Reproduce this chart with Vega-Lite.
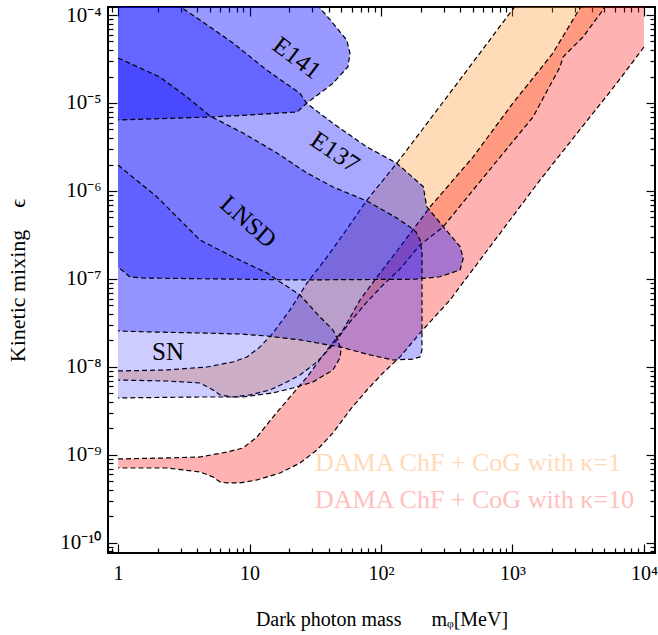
{
  "$schema": "https://vega.github.io/schema/vega-lite/v6.json",
  "width": 547,
  "height": 546,
  "autosize": {"type": "none"},
  "padding": {"left": 108, "top": 7, "right": 3, "bottom": 82},
  "background": "white",
  "config": {"view": {"stroke": "black", "strokeWidth": 2}},
  "datasets": {
    "orange": [
      {"i":1,"m":1,"eps":9.01e-9},{"i":2,"m":2.359,"eps":9.25e-9},{"i":3,"m":4.751,"eps":1.0e-8},{"i":4,"m":7.49,"eps":1.14e-8},
      {"i":5,"m":9.57,"eps":1.30e-8},{"i":6,"m":12.02,"eps":1.69e-8},{"i":7,"m":15.09,"eps":2.43e-8},{"i":8,"m":20.32,"eps":4.45e-8},
      {"i":9,"m":27.37,"eps":9.01e-8},{"i":10,"m":38.86,"eps":1.78e-7},{"i":11,"m":55.13,"eps":3.70e-7},{"i":12,"m":78.26,"eps":7.90e-7},
      {"i":13,"m":132.3,"eps":2.08e-6},{"i":14,"m":334.7,"eps":1.30e-5},{"i":15,"m":957.2,"eps":1.054e-4},{"i":16,"m":1140,"eps":1.48e-4},
      {"i":17,"m":5232,"eps":1.48e-4},{"i":18,"m":4877,"eps":1.14e-4},{"i":19,"m":3437,"eps":5.62e-5},{"i":20,"m":2737,"eps":4.0e-5},
      {"i":21,"m":2421,"eps":3.33e-5},{"i":22,"m":2297,"eps":2.56e-5},{"i":23,"m":1432,"eps":6.93e-6},{"i":24,"m":639.9,"eps":1.60e-6},
      {"i":25,"m":296.1,"eps":3.90e-7},{"i":26,"m":198,"eps":2.43e-7},{"i":27,"m":139.5,"eps":1.30e-7},{"i":28,"m":103.6,"eps":8.55e-8},
      {"i":29,"m":78.26,"eps":5.48e-8},{"i":30,"m":58.12,"eps":3.25e-8},{"i":31,"m":43.15,"eps":1.78e-8},{"i":32,"m":32.61,"eps":1.14e-8},
      {"i":33,"m":24.21,"eps":8.11e-9},{"i":34,"m":18.62,"eps":6.58e-9},{"i":35,"m":14.32,"eps":5.48e-9},{"i":36,"m":10.09,"eps":4.81e-9},
      {"i":37,"m":7.49,"eps":4.56e-9},{"i":38,"m":5.968,"eps":4.81e-9},{"i":39,"m":5.277,"eps":5.48e-9},{"i":40,"m":4.204,"eps":6.58e-9},
      {"i":41,"m":2.359,"eps":6.93e-9},{"i":42,"m":1,"eps":7.11e-9}
    ],
    "red": [
      {"i":1,"s":1,"m":1,"eps":9.01e-10},{"i":2,"s":1,"m":2.359,"eps":9.25e-10},{"i":3,"s":1,"m":4.204,"eps":9.49e-10},{"i":4,"s":1,"m":6.745,"eps":1.08e-9},
      {"i":5,"s":1,"m":8.925,"eps":1.20e-9},{"i":6,"s":1,"m":11.40,"eps":1.60e-9},{"i":7,"s":1,"m":15.09,"eps":2.70e-9},{"i":8,"s":1,"m":20.32,"eps":4.56e-9},
      {"i":9,"s":1,"m":27.37,"eps":7.69e-9},{"i":10,"s":1,"m":38.86,"eps":1.56e-8},{"i":11,"s":1,"m":51.40,"eps":2.63e-8},{"i":12,"s":1,"m":69.24,"eps":5.77e-8},
      {"i":13,"s":1,"m":93.24,"eps":1.054e-7},{"i":14,"s":1,"m":132.3,"eps":2.08e-7},{"i":15,"s":1,"m":235.9,"eps":6.58e-7},{"i":16,"s":1,"m":500.8,"eps":2.43e-6},
      {"i":17,"s":1,"m":1009,"eps":1.0e-5},{"i":18,"s":1,"m":2032,"eps":3.70e-5},{"i":19,"s":1,"m":3094,"eps":1.054e-4},{"i":20,"s":1,"m":3557,"eps":1.48e-4},
      {"i":21,"s":0,"m":10000,"eps":1.48e-4},
      {"i":22,"s":2,"m":10000,"eps":4.33e-5},{"i":23,"s":2,"m":6233,"eps":1.69e-5},{"i":24,"s":2,"m":1619,"eps":1.33e-6},{"i":25,"s":2,"m":334.7,"eps":5.77e-8},
      {"i":26,"s":2,"m":198,"eps":2.43e-8},{"i":27,"s":2,"m":139.5,"eps":1.30e-8},{"i":28,"s":2,"m":103.6,"eps":8.55e-9},{"i":29,"s":2,"m":78.26,"eps":5.48e-9},
      {"i":30,"s":2,"m":58.12,"eps":3.25e-9},{"i":31,"s":2,"m":43.15,"eps":1.78e-9},{"i":32,"s":2,"m":32.61,"eps":1.14e-9},{"i":33,"s":2,"m":24.21,"eps":8.11e-10},
      {"i":34,"s":2,"m":17.06,"eps":6.24e-10},{"i":35,"s":2,"m":11.40,"eps":5.20e-10},{"i":36,"s":2,"m":8.47,"eps":4.81e-10},{"i":37,"s":2,"m":6.745,"eps":4.81e-10},
      {"i":38,"s":2,"m":5.968,"eps":4.93e-10},{"i":39,"s":2,"m":5.277,"eps":5.62e-10},{"i":40,"s":2,"m":4.204,"eps":6.41e-10},{"i":41,"s":2,"m":2.359,"eps":7.11e-10},
      {"i":42,"s":2,"m":1,"eps":7.11e-10}
    ],
    "E141": [
      {"i":0,"m":1,"eps":2.5e-4},{"i":1,"m":28,"eps":2.5e-4},{"i":2,"m":34.37,"eps":1.2e-4},{"i":3,"m":43.15,"eps":8.05e-5},
      {"i":4,"m":54.8,"eps":5.2e-5},{"i":5,"m":58.12,"eps":3.67e-5},{"i":6,"m":56.1,"eps":2.585e-5},{"i":7,"m":43.15,"eps":1.675e-5},
      {"i":8,"m":27.2,"eps":9.93e-6},{"i":9,"m":22.97,"eps":7.9e-6},{"i":10,"m":10.09,"eps":7.31e-6},{"i":11,"m":5.0,"eps":6.93e-6},
      {"i":12,"m":1,"eps":6.41e-6}
    ],
    "E137": [
      {"i":0,"m":1,"eps":2.5e-4},{"i":1,"m":2.24,"eps":1.69e-4},{"i":2,"m":3.067,"eps":1.2e-4},{"i":3,"m":4.204,"eps":8.77e-5},
      {"i":4,"m":7.49,"eps":4.81e-5},{"i":5,"m":13.5,"eps":2.37e-5},{"i":6,"m":24.2,"eps":1.29e-5},{"i":7,"m":27.2,"eps":9.93e-6},
      {"i":8,"m":43.15,"eps":5.87e-6},{"i":9,"m":77.8,"eps":3.18e-6},{"i":10,"m":131.6,"eps":2.07e-6},{"i":11,"m":209.8,"eps":1.12e-6},
      {"i":12,"m":222.6,"eps":6.64e-7},{"i":13,"m":297.8,"eps":3.93e-7},{"i":14,"m":399,"eps":2.33e-7},{"i":15,"m":422.6,"eps":1.72e-7},
      {"i":16,"m":399,"eps":1.265e-7},{"i":17,"m":281,"eps":1.06e-7},{"i":18,"m":176.1,"eps":9.93e-8},{"i":19,"m":24.2,"eps":9.75e-8},
      {"i":20,"m":1.549,"eps":1.026e-7},{"i":21,"m":1.234,"eps":1.054e-7},{"i":22,"m":1,"eps":1.37e-7}
    ],
    "LNSD": [
      {"i":0,"m":1,"eps":3.25e-5},{"i":1,"m":2.085,"eps":1.97e-5},{"i":2,"m":3.348,"eps":1.17e-5},{"i":3,"m":5.008,"eps":7.11e-6},
      {"i":4,"m":8.925,"eps":4.56e-6},{"i":5,"m":16.19,"eps":2.70e-6},{"i":6,"m":27.37,"eps":1.60e-6},{"i":7,"m":43.15,"eps":1.11e-6},
      {"i":8,"m":78.26,"eps":7.69e-7},{"i":9,"m":127.8,"eps":5.07e-7},{"i":10,"m":166.2,"eps":3.90e-7},{"i":11,"m":184.6,"eps":3.42e-7},
      {"i":12,"m":198,"eps":2.77e-7},{"i":13,"m":205,"eps":2.03e-7},{"i":14,"m":205,"eps":5.77e-8},{"i":15,"m":205,"eps":1.56e-8},
      {"i":16,"m":198,"eps":1.30e-8},{"i":17,"m":175.1,"eps":1.23e-8},{"i":18,"m":123.4,"eps":1.20e-8},{"i":19,"m":82.48,"eps":1.37e-8},
      {"i":20,"m":48.77,"eps":1.69e-8},{"i":21,"m":24.21,"eps":2.03e-8},{"i":22,"m":13.59,"eps":2.25e-8},{"i":23,"m":8.47,"eps":2.37e-8},
      {"i":24,"m":4.43,"eps":2.43e-8},{"i":25,"m":1.751,"eps":2.50e-8},{"i":26,"m":1,"eps":2.57e-8}
    ],
    "SN": [
      {"i":0,"m":1,"eps":1.97e-6},{"i":1,"m":1.98,"eps":8.55e-7},{"i":2,"m":4.204,"eps":2.77e-7},{"i":3,"m":7.49,"eps":1.78e-7},
      {"i":4,"m":13.59,"eps":1.17e-7},{"i":5,"m":16.19,"eps":9.75e-8},{"i":6,"m":24.21,"eps":6.58e-8},{"i":7,"m":34.37,"eps":3.70e-8},
      {"i":8,"m":43.15,"eps":2.63e-8},{"i":9,"m":47.1,"eps":2.03e-8},{"i":10,"m":49.6,"eps":1.56e-8},{"i":11,"m":48.77,"eps":1.27e-8},
      {"i":12,"m":43.15,"eps":9.25e-9},{"i":13,"m":30.41,"eps":6.76e-9},{"i":14,"m":21.42,"eps":5.77e-9},{"i":15,"m":15.09,"eps":5.07e-9},
      {"i":16,"m":8.925,"eps":4.56e-9},{"i":17,"m":4.204,"eps":4.56e-9},{"i":18,"m":1,"eps":4.45e-9}
    ],
    "labels": [
      {"label":"E141","m":22.97,"eps":3.24e-5},
      {"label":"E137","m":44.7,"eps":2.77e-6},
      {"label":"LNSD","m":9.79,"eps":4.48e-7},
      {"label":"SN","m":2.40,"eps":1.48e-8},
      {"label":"DAMA ChF + CoG with κ=1","m":31.5,"eps":8.11e-10},
      {"label":"DAMA ChF + CoG with κ=10","m":31.5,"eps":3.08e-10}
    ]
  },
  "resolve": {"axis": {"x": "independent", "y": "independent"}},
  "layer": [
    {
      "data": {"name": "orange"},
      "mark": {"type": "line", "interpolate": "linear-closed", "fill": "#ff8c1a", "fillOpacity": 0.31, "strokeOpacity": 0, "clip": true},
      "encoding": {
        "x": {"field": "m", "type": "quantitative", "scale": {"type": "log", "domain": [0.839, 12130], "nice": false},
          "axis": {"orient": "bottom", "title": "Dark photon mass\u00a0\u00a0\u00a0\u00a0\u00a0\u00a0mᵩ[MeV]", "grid": false, "domain": false,
            "tickColor": "black", "tickWidth": 1.2,
            "tickSize": {"condition": {"test": "abs(log(datum.value)/LN10 - round(log(datum.value)/LN10)) < 0.001", "value": -9}, "value": -5},
            "labelExpr": "abs(log(datum.value)/LN10 - round(log(datum.value)/LN10)) > 0.001 ? '' : ['1','10','10²','10³','10⁴'][round(log(datum.value)/LN10)]",
            "labelFont": "Liberation Serif", "labelFontSize": 20, "labelColor": "black", "labelPadding": 19, "labelOverlap": false, "labelFlush": false,
            "titleFont": "Liberation Serif", "titleFontSize": 20, "titleFontWeight": "normal", "titleColor": "black", "titlePadding": 22}},
        "y": {"field": "eps", "type": "quantitative", "scale": {"type": "log", "domain": [7.69e-11, 1.233e-4], "nice": false},
          "axis": {"orient": "left", "title": "Kinetic mixing\u00a0\u00a0\u00a0\u00a0ϵ", "grid": false, "domain": false,
            "tickColor": "black", "tickWidth": 1.2,
            "tickSize": {"condition": {"test": "abs(log(datum.value)/LN10 - round(log(datum.value)/LN10)) < 0.001", "value": -9}, "value": -5},
            "labelExpr": "abs(log(datum.value)/LN10 - round(log(datum.value)/LN10)) > 0.001 ? '' : '10⁻' + ['0','1','2','3','⁴','⁵','⁶','⁷','⁸','⁹','¹⁰'][-round(log(datum.value)/LN10)]",
            "labelFont": "Liberation Serif", "labelFontSize": 21, "labelColor": "black", "labelPadding": 16, "labelOverlap": false, "labelFlush": false,
            "titleFont": "Liberation Serif", "titleFontSize": 22, "titleFontWeight": "normal", "titleColor": "black", "titlePadding": 30}},
        "order": {"field": "i", "type": "quantitative"}
      }
    },
    {
      "data": {"name": "red"},
      "mark": {"type": "line", "interpolate": "linear-closed", "fill": "#ff0000", "fillOpacity": 0.3, "strokeOpacity": 0, "clip": true},
      "encoding": {
        "x": {"field": "m", "type": "quantitative",
          "axis": {"orient": "top", "labels": false, "title": null, "grid": false, "domain": false, "tickColor": "black", "tickWidth": 1.2,
            "tickSize": {"condition": {"test": "abs(log(datum.value)/LN10 - round(log(datum.value)/LN10)) < 0.001", "value": -9}, "value": -5}}},
        "y": {"field": "eps", "type": "quantitative",
          "axis": {"orient": "right", "labels": false, "title": null, "grid": false, "domain": false, "tickColor": "black", "tickWidth": 1.2,
            "tickSize": {"condition": {"test": "abs(log(datum.value)/LN10 - round(log(datum.value)/LN10)) < 0.001", "value": -9}, "value": -5}}},
        "order": {"field": "i", "type": "quantitative"}
      }
    },
    {
      "data": {"name": "orange"},
      "mark": {"type": "line", "stroke": "black", "strokeWidth": 1.2, "strokeDash": [5, 3], "clip": true},
      "encoding": {
        "x": {"field": "m", "type": "quantitative", "axis": null},
        "y": {"field": "eps", "type": "quantitative", "axis": null},
        "order": {"field": "i", "type": "quantitative"}
      }
    },
    {
      "data": {"name": "red"},
      "transform": [{"filter": "datum.s > 0"}],
      "mark": {"type": "line", "stroke": "black", "strokeWidth": 1.2, "strokeDash": [5, 3], "clip": true},
      "encoding": {
        "x": {"field": "m", "type": "quantitative", "axis": null},
        "y": {"field": "eps", "type": "quantitative", "axis": null},
        "detail": {"field": "s", "type": "nominal"},
        "order": {"field": "i", "type": "quantitative"}
      }
    },
    {
      "data": {"name": "E141"},
      "mark": {"type": "line", "interpolate": "linear-closed", "fill": "#0000ff", "fillOpacity": 0.4, "strokeOpacity": 0, "clip": true},
      "encoding": {"x": {"field": "m", "type": "quantitative", "axis": null}, "y": {"field": "eps", "type": "quantitative", "axis": null}, "order": {"field": "i", "type": "quantitative"}}
    },
    {
      "data": {"name": "E137"},
      "mark": {"type": "line", "interpolate": "linear-closed", "fill": "#0000ff", "fillOpacity": 0.34, "strokeOpacity": 0, "clip": true},
      "encoding": {"x": {"field": "m", "type": "quantitative", "axis": null}, "y": {"field": "eps", "type": "quantitative", "axis": null}, "order": {"field": "i", "type": "quantitative"}}
    },
    {
      "data": {"name": "LNSD"},
      "mark": {"type": "line", "interpolate": "linear-closed", "fill": "#0000ff", "fillOpacity": 0.27, "strokeOpacity": 0, "clip": true},
      "encoding": {"x": {"field": "m", "type": "quantitative", "axis": null}, "y": {"field": "eps", "type": "quantitative", "axis": null}, "order": {"field": "i", "type": "quantitative"}}
    },
    {
      "data": {"name": "SN"},
      "mark": {"type": "line", "interpolate": "linear-closed", "fill": "#0000ff", "fillOpacity": 0.2, "strokeOpacity": 0, "clip": true},
      "encoding": {"x": {"field": "m", "type": "quantitative", "axis": null}, "y": {"field": "eps", "type": "quantitative", "axis": null}, "order": {"field": "i", "type": "quantitative"}}
    },
    {
      "data": {"name": "E141"},
      "mark": {"type": "line", "stroke": "black", "strokeWidth": 1.2, "strokeDash": [5, 3], "clip": true},
      "encoding": {"x": {"field": "m", "type": "quantitative", "axis": null}, "y": {"field": "eps", "type": "quantitative", "axis": null}, "order": {"field": "i", "type": "quantitative"}}
    },
    {
      "data": {"name": "E137"},
      "mark": {"type": "line", "stroke": "black", "strokeWidth": 1.2, "strokeDash": [5, 3], "clip": true},
      "encoding": {"x": {"field": "m", "type": "quantitative", "axis": null}, "y": {"field": "eps", "type": "quantitative", "axis": null}, "order": {"field": "i", "type": "quantitative"}}
    },
    {
      "data": {"name": "LNSD"},
      "mark": {"type": "line", "stroke": "black", "strokeWidth": 1.2, "strokeDash": [5, 3], "clip": true},
      "encoding": {"x": {"field": "m", "type": "quantitative", "axis": null}, "y": {"field": "eps", "type": "quantitative", "axis": null}, "order": {"field": "i", "type": "quantitative"}}
    },
    {
      "data": {"name": "SN"},
      "mark": {"type": "line", "stroke": "black", "strokeWidth": 1.2, "strokeDash": [5, 3], "clip": true},
      "encoding": {"x": {"field": "m", "type": "quantitative", "axis": null}, "y": {"field": "eps", "type": "quantitative", "axis": null}, "order": {"field": "i", "type": "quantitative"}}
    },
    {
      "data": {"name": "labels"},
      "transform": [{"filter": "datum.label == 'E141'"}],
      "mark": {"type": "text", "font": "Liberation Serif", "fontSize": 25, "color": "black", "angle": 37, "align": "center", "baseline": "middle"},
      "encoding": {"x": {"field": "m", "type": "quantitative", "axis": null}, "y": {"field": "eps", "type": "quantitative", "axis": null}, "text": {"field": "label"}}
    },
    {
      "data": {"name": "labels"},
      "transform": [{"filter": "datum.label == 'E137'"}],
      "mark": {"type": "text", "font": "Liberation Serif", "fontSize": 25, "color": "black", "angle": 34, "align": "center", "baseline": "middle"},
      "encoding": {"x": {"field": "m", "type": "quantitative", "axis": null}, "y": {"field": "eps", "type": "quantitative", "axis": null}, "text": {"field": "label"}}
    },
    {
      "data": {"name": "labels"},
      "transform": [{"filter": "datum.label == 'LNSD'"}],
      "mark": {"type": "text", "font": "Liberation Serif", "fontSize": 25, "color": "black", "angle": 41, "align": "center", "baseline": "middle"},
      "encoding": {"x": {"field": "m", "type": "quantitative", "axis": null}, "y": {"field": "eps", "type": "quantitative", "axis": null}, "text": {"field": "label"}}
    },
    {
      "data": {"name": "labels"},
      "transform": [{"filter": "datum.label == 'SN'"}],
      "mark": {"type": "text", "font": "Liberation Serif", "fontSize": 25, "color": "black", "align": "center", "baseline": "middle"},
      "encoding": {"x": {"field": "m", "type": "quantitative", "axis": null}, "y": {"field": "eps", "type": "quantitative", "axis": null}, "text": {"field": "label"}}
    },
    {
      "data": {"name": "labels"},
      "transform": [{"filter": "datum.label == 'DAMA ChF + CoG with κ=1'"}],
      "mark": {"type": "text", "font": "Liberation Serif", "fontSize": 26, "color": "#ffdab8", "align": "left", "baseline": "middle"},
      "encoding": {"x": {"field": "m", "type": "quantitative", "axis": null}, "y": {"field": "eps", "type": "quantitative", "axis": null}, "text": {"field": "label"}}
    },
    {
      "data": {"name": "labels"},
      "transform": [{"filter": "datum.label == 'DAMA ChF + CoG with κ=10'"}],
      "mark": {"type": "text", "font": "Liberation Serif", "fontSize": 26, "color": "#ffc0c0", "align": "left", "baseline": "middle"},
      "encoding": {"x": {"field": "m", "type": "quantitative", "axis": null}, "y": {"field": "eps", "type": "quantitative", "axis": null}, "text": {"field": "label"}}
    }
  ]
}
